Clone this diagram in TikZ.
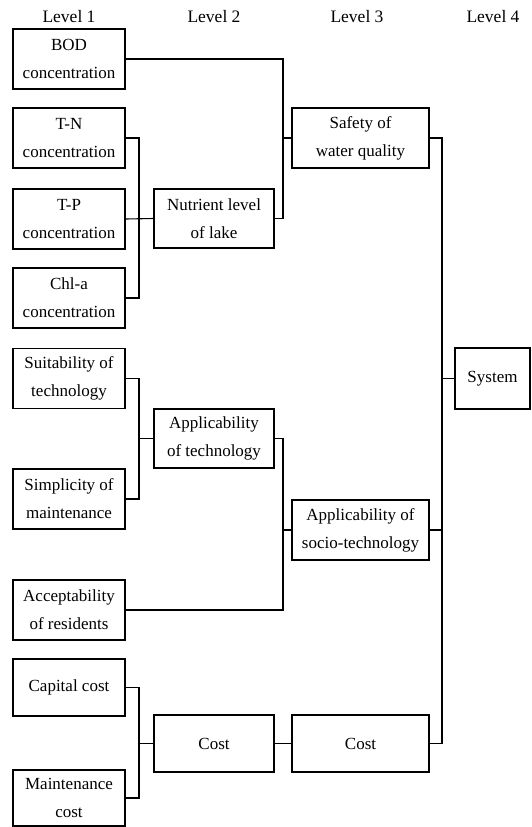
\documentclass[tikz,border=0pt]{standalone}
\usepackage{fontspec}
\setmainfont{Liberation Serif}
\usepackage{tikz}
\usetikzlibrary{positioning}

\begin{document}
\begin{tikzpicture}[
x=1pt, y=-1pt,
boxnode/.style={rectangle, draw=black!100, line width=1.1pt, inner sep=0pt, align=center, font=\fontsize{17}{28}\selectfont},
levelone/.style={boxnode, minimum width=112pt, minimum height=60pt},
leveltwo/.style={boxnode, minimum width=120pt, minimum height=59pt},
levelthree/.style={boxnode, minimum width=137pt, minimum height=60pt},
levellabel/.style={font=\fontsize{17.5}{18}\selectfont, inner sep=0pt},
]
\useasboundingbox (0,0) rectangle (532,827);
%Nodes
\node[levellabel] (lab1) at (69,17) {Level 1};
\node[levellabel] (lab2) at (214,17) {Level 2};
\node[levellabel] (lab3) at (357,17) {Level 3};
\node[levellabel] (lab4) at (493,17) {Level 4};

\node[levelone] (bod) at (69,59) {BOD\\concentration};
\node[levelone] (tn) at (69,138) {T-N\\concentration};
\node[levelone] (tp) at (69,219) {T-P\\concentration};
\node[levelone] (chla) at (69,298) {Chl-a\\concentration};
\node[levelone] (suitability) at (69,378.5) {Suitability of\\technology};
\node[levelone] (simplicity) at (69,499) {Simplicity of\\maintenance};
\node[levelone] (acceptability) at (69,610) {Acceptability\\of residents};
\node[levelone, minimum height=57pt] (capital) at (69,687.5) {Capital cost};
\node[levelone, minimum height=56pt] (maintenance) at (69,798) {Maintenance\\cost};

\node[leveltwo] (nutrient) at (214,218.5) {Nutrient level\\of lake};
\node[leveltwo] (appltech) at (214,438.5) {Applicability\\of technology};
\node[leveltwo, minimum height=57pt] (cost2) at (214,743.5) {Cost};

\node[levelthree] (safety) at (360.5,138) {Safety of\\water quality};
\node[levelthree] (socio) at (360.5,530) {Applicability of\\socio-technology};
\node[levelthree, minimum height=57pt] (cost3) at (360.5,743.5) {Cost};

\node[boxnode, minimum width=75pt, minimum height=61pt] (system) at (492.5,378.5) {System};

%Junctions
\coordinate (jnutrient) at (139,218.5);
\coordinate (jappltech) at (139,438.5);
\coordinate (jcost) at (139,743.5);
\coordinate (jsafety) at (283,138);
\coordinate (jsocio) at (283,530);
\coordinate (jsystem) at (442,378.5);

%Lines
\begin{scope}[line width=1.1pt]
\draw (tn.east) -| (jnutrient) |- (chla.east);
\draw (tp.east) -- (nutrient.west);
\draw (suitability.east) -| (jappltech) |- (simplicity.east);
\draw (jappltech) -- (appltech.west);
\draw (capital.east) -| (jcost) |- (maintenance.east);
\draw (jcost) -- (cost2.west);
\draw (bod.east) -| (jsafety) |- (nutrient.east);
\draw (jsafety) -- (safety.west);
\draw (appltech.east) -| (jsocio) |- (acceptability.east);
\draw (jsocio) -- (socio.west);
\draw (cost2.east) -- (cost3.west);
\draw (safety.east) -| (jsystem) |- (cost3.east);
\draw (jsystem) -- (system.west);
\draw (jsystem |- socio.east) -- (socio.east);
\end{scope}

\end{tikzpicture}
\end{document}
